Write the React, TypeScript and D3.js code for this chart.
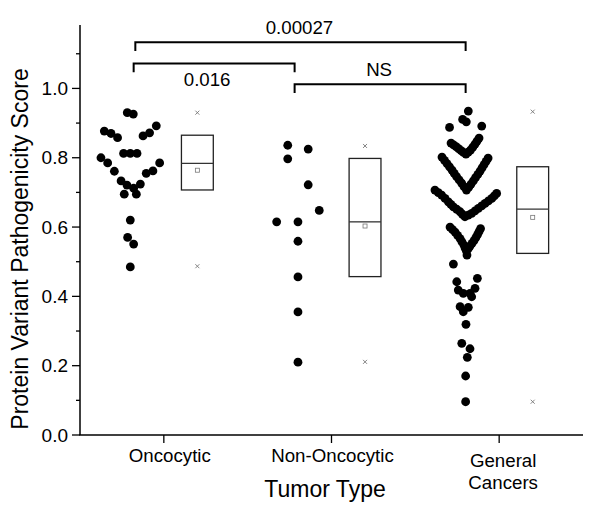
import React from "react";
import * as d3 from "d3";

// ---- data ----
const categories = ["Oncocytic", "Non-Oncocytic", "General Cancers"];
const categoryLabelLines = [["Oncocytic"], ["Non-Oncocytic"], ["General", "Cancers"]];

const oncocyticScores = [0.930, 0.926, 0.877, 0.870, 0.858, 0.863, 0.872, 0.892, 0.8125, 0.8125, 0.8125,
  0.800, 0.785, 0.761, 0.785, 0.762, 0.755, 0.733, 0.721, 0.712, 0.724, 0.695, 0.695, 0.620, 0.570, 0.551, 0.485];
const oncocyticJitter = [-0.018, 0.018, -0.155, -0.115, -0.076, 0.076, 0.115, 0.155, -0.040, 0, 0.040,
  -0.175, -0.135, -0.095, 0.175, 0.135, 0.095, -0.055, -0.020, 0.020, 0.060, -0.036, 0.036, 0, -0.016, 0.020, 0];

const nonOncocyticScores = [0.836, 0.825, 0.797, 0.722, 0.648, 0.615, 0.615, 0.559, 0.456, 0.355, 0.210];
const nonOncocyticJitter = [-0.061, 0.061, -0.061, 0.061, 0.127, -0.127, 0, 0, 0, 0, 0];

const generalScores = [
  0.9345, 0.9106, 0.9037, 0.8875, 0.8913,
  0.8422, 0.8372, 0.8321, 0.8264, 0.8206, 0.8156, 0.8105, 0.8163, 0.8220, 0.8307, 0.8393, 0.8480, 0.8566,
  0.8018, 0.7925, 0.7831, 0.7737, 0.7643, 0.7550, 0.7456, 0.7363, 0.7269, 0.7168, 0.7067,
  0.7154, 0.7240, 0.7334, 0.7427, 0.7521, 0.7615, 0.7709, 0.7802, 0.7896, 0.7990,
  0.7067, 0.6995, 0.6922, 0.6826, 0.6729, 0.6657, 0.6585, 0.6513, 0.6441, 0.6369, 0.6297,
  0.6346, 0.6395, 0.6467, 0.6539, 0.6611, 0.6683, 0.6755, 0.6827, 0.6899, 0.6971,
  0.5999, 0.5927, 0.5855, 0.5762, 0.5668, 0.5574, 0.5480, 0.5394, 0.5307,
  0.5379, 0.5451, 0.5531, 0.5610, 0.5697, 0.5783, 0.5870, 0.5956, 0.5192,
  0.4932, 0.4520, 0.4422, 0.4182, 0.4087, 0.4087, 0.4231, 0.3989, 0.3701, 0.3683, 0.3556,
  0.3193, 0.2645, 0.2489, 0.2241, 0.1702, 0.0960];
const generalJitter = [
  0.016, -0.018, 0.004, -0.096, 0.096,
  -0.087, -0.072, -0.057, -0.042, -0.027, -0.013, 0.002, 0.016, 0.029, 0.043, 0.056, 0.068, 0.080,
  -0.141, -0.126, -0.111, -0.096, -0.081, -0.068, -0.054, -0.039, -0.024, -0.010, 0.005,
  0.019, 0.032, 0.046, 0.059, 0.073, 0.086, 0.098, 0.110, 0.122, 0.134,
  -0.183, -0.163, -0.143, -0.123, -0.103, -0.088, -0.073, -0.053, -0.033, -0.019, -0.004,
  0.016, 0.036, 0.056, 0.076, 0.096, 0.116, 0.136, 0.156, 0.171, 0.185,
  -0.093, -0.078, -0.063, -0.048, -0.033, -0.022, -0.010, -0.003, 0.005,
  0.016, 0.026, 0.038, 0.050, 0.061, 0.071, 0.080, 0.089, 0.008,
  -0.073, 0.070, -0.053, -0.044, -0.014, 0.026, 0.056, 0.036, -0.033, 0.016, -0.014,
  0.002, -0.023, 0.026, 0.010, 0, 0];

const groupScores = [oncocyticScores, nonOncocyticScores, generalScores];
const groupJitter = [oncocyticJitter, nonOncocyticJitter, generalJitter];

const boxQ1 = [0.707, 0.457, 0.524];
const boxMedian = [0.784, 0.615, 0.652];
const boxQ3 = [0.865, 0.798, 0.774];
const boxMean = [0.764, 0.603, 0.628];
const boxMin = [0.487, 0.211, 0.096];
const boxMax = [0.930, 0.834, 0.933];

const bracketFrom = [0.83, 0.82, 1.78];
const bracketTo = [2.8, 1.78, 2.8];
const bracketLevel = [1.133, 1.072, 1.012];
const bracketLabels = ["0.00027", "0.016", "NS"];
const bracketLabelBelow = [false, true, false];

const yMajorTicks = [0, 0.2, 0.4, 0.6, 0.8, 1.0];
const yMinorTicks = [0.1, 0.3, 0.5, 0.7, 0.9, 1.1];

const yTitle = "Protein Variant Pathogenicity Score";
const xTitle = "Tumor Type";

// ---- layout ----
const W = 600, H = 516;
const FONT = "'Liberation Sans', Arial, sans-serif";

export default function App() {
  const x = d3.scaleLinear().domain([0.5, 3.5]).range([80, 583]);
  const y = d3.scaleLinear().domain([0, 1.183]).range([435, 25]);
  const scatterOffset = -0.2;
  const boxOffset = 0.2;
  const boxHalf = 0.095;
  const r = 4.4;
  const capLen = 0.025;
  const fmt = d3.format(".1f");

  return (
    <svg width={W} height={H} style={{ position: "absolute", left: 0, top: 0, background: "#fff" }}
      fontFamily={FONT}>
      {/* axes */}
      <line x1={x(0.5)} x2={x(0.5)} y1={y(0)} y2={y(1.183)} stroke="#000" strokeWidth={1.5} />
      <line x1={x(0.5) - 0.75} x2={x(3.5)} y1={y(0)} y2={y(0)} stroke="#000" strokeWidth={1.5} />
      {yMajorTicks.map((t) => (
        <g key={"ym" + t}>
          <line x1={x(0.5) - 8} x2={x(0.5)} y1={y(t)} y2={y(t)} stroke="#000" strokeWidth={1.3} />
          <text x={x(0.5) - 12} y={y(t)} dy="0.35em" textAnchor="end" fontSize={19}>{fmt(t)}</text>
        </g>
      ))}
      {yMinorTicks.map((t) => (
        <line key={"yn" + t} x1={x(0.5) - 4} x2={x(0.5)} y1={y(t)} y2={y(t)} stroke="#000" strokeWidth={1.3} />
      ))}
      {categories.map((c, i) => (
        <g key={c}>
          <line x1={x(i + 1)} x2={x(i + 1)} y1={y(0)} y2={y(0) + 8} stroke="#000" strokeWidth={1.3} />
          {categoryLabelLines[i].map((ln, j) => (
            <text key={ln} x={x(i + 1) + (i === 0 ? 6 : i === 2 ? 4 : 1)} y={categoryLabelLines[i].length > 1 ? 467 + j * 22 : 462}
              textAnchor="middle" fontSize={18.7}>{ln}</text>
          ))}
        </g>
      ))}
      <text x={325} y={497} textAnchor="middle" fontSize={23}>{xTitle}</text>
      <text transform={`translate(28,249) rotate(-90)`} textAnchor="middle" fontSize={23}>{yTitle}</text>

      {/* scatter */}
      {groupScores.map((vals, gi) => (
        <g key={"s" + gi}>
          {vals.map((v, k) => (
            <circle key={k} cx={x(gi + 1 + scatterOffset + groupJitter[gi][k])} cy={y(v)} r={r} fill="#000" />
          ))}
        </g>
      ))}

      {/* boxes */}
      {categories.map((c, i) => {
        const cx = x(i + 1 + boxOffset);
        const x0 = x(i + 1 + boxOffset - boxHalf);
        const x1 = x(i + 1 + boxOffset + boxHalf);
        return (
          <g key={"b" + c}>
            <rect x={x0} y={y(boxQ3[i])} width={x1 - x0} height={y(boxQ1[i]) - y(boxQ3[i])}
              fill="none" stroke="#222" strokeWidth={1.3} />
            <line x1={x0} x2={x1} y1={y(boxMedian[i])} y2={y(boxMedian[i])} stroke="#333" strokeWidth={1.3} />
            <rect x={cx - 2} y={y(boxMean[i]) - 2} width={4} height={4} fill="none" stroke="#777" strokeWidth={0.8} />
            {[boxMin[i], boxMax[i]].map((m, k) => (
              <path key={k} d={`M${cx - 2},${y(m) - 2}L${cx + 2},${y(m) + 2}M${cx - 2},${y(m) + 2}L${cx + 2},${y(m) - 2}`}
                stroke="#777" strokeWidth={0.9} />
            ))}
          </g>
        );
      })}

      {/* significance brackets */}
      {bracketLabels.map((lab, i) => {
        const xa = x(bracketFrom[i]);
        const xb = x(bracketTo[i]);
        const yl = y(bracketLevel[i]);
        const yd = y(bracketLevel[i] - capLen);
        return (
          <g key={"br" + i}>
            <path d={`M${xa},${yd}L${xa},${yl}L${xb},${yl}L${xb},${yd}`} fill="none" stroke="#000" strokeWidth={2} />
            <text x={(xa + xb) / 2 - (bracketLabelBelow[i] ? 7 : 1)} y={bracketLabelBelow[i] ? yl + 23 : yl - 8}
              textAnchor="middle" fontSize={18.7}>{lab}</text>
          </g>
        );
      })}
    </svg>
  );
}
